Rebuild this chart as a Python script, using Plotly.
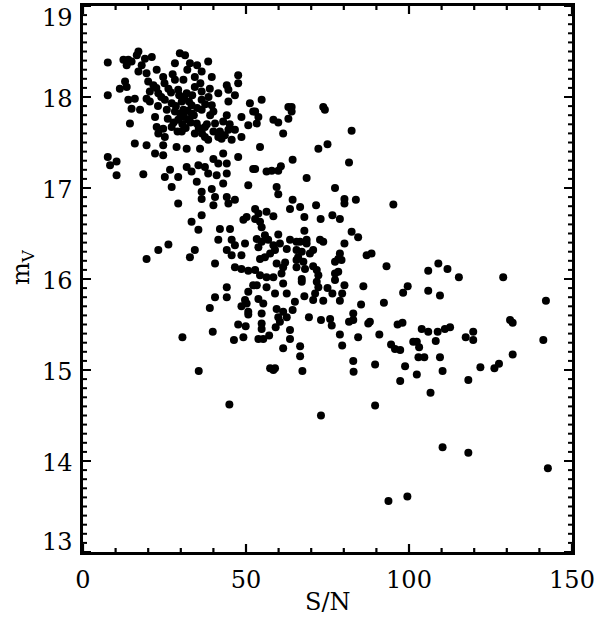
import plotly.graph_objects as go

# S/N and m_V values
sn = [
7.6,7.6,12.4,13.4,14.9,16.5,17.0,19.0,21.1,18.0,13.9,29.7,31.3,28.2,32.8,38.4,17.0,19.5,22.6,24.6,
28.2,30.8,34.3,36.4,39.5,47.6,47.6,12.9,11.3,13.4,20.0,21.6,20.5,23.1,26.2,29.2,31.8,34.3,36.4,38.9,
41.5,44.1,44.6,46.6,44.6,13.9,15.9,19.5,25.1,27.2,30.3,33.3,36.4,39.5,14.9,17.5,22.1,25.7,28.2,30.8,
33.3,36.4,40.0,44.1,48.6,51.2,50.7,52.2,14.4,22.6,24.6,27.2,29.2,32.3,34.9,37.4,40.5,43.0,44.6,46.6,
48.6,41.5,23.1,25.1,30.3,34.3,37.4,42.5,45.6,15.9,19.5,24.6,22.1,24.6,28.7,31.8,35.9,38.4,7.6,8.3,
10.3,10.3,18.5,25.1,26.7,29.2,31.8,33.3,35.4,37.4,40.0,41.5,44.1,43.0,47.6,27.2,34.9,36.4,38.4,41.0,
44.1,43.0,39.5,40.5,44.1,46.6,36.4,40.0,44.6,50.7,52.2,29.2,33.3,36.4,35.4,42.0,45.1,49.2,50.2,19.5,
23.1,26.2,34.3,32.8,40.5,41.5,44.1,45.6,46.6,45.6,48.6,49.7,46.6,48.6,50.7,
54.8,52.8,53.8,53.3,63.0,64.0,64.0,73.7,74.2,58.4,59.9,63.0,61.4,82.4,54.3,72.2,75.0,52.8,56.3,57.9,
59.9,60.7,64.3,81.6,68.6,59.4,59.9,77.3,64.3,80.2,80.2,83.7,95.2,63.5,66.6,71.5,52.8,53.8,52.8,54.3,
56.3,58.4,67.9,72.9,76.5,78.8,54.8,55.8,67.9,59.9,82.4,84.4,53.3,54.8,53.8,56.8,58.4,60.4,58.9,62.5,
63.5,65.5,66.6,68.6,68.6,72.7,73.7,80.2,65.5,67.1,66.0,69.6,70.6,54.3,55.8,57.4,65.5,67.6,65.5,68.1,
78.8,78.3,79.3,77.3,87.0,88.5,93.1,59.4,62.0,61.4,70.6,71.7,72.2,77.3,78.3,52.8,54.3,56.3,58.4,60.9,
67.1,
105.9,109.0,111.8,115.3,128.9,
44.1,40.5,44.1,38.9,50.7,52.2,49.7,50.2,48.6,50.7,50.7,47.6,49.9,39.8,30.5,46.3,49.2,35.5,44.9,
53.3,56.3,61.4,67.1,71.7,72.2,77.3,80.2,86.0,58.9,62.5,53.8,55.3,54.8,67.9,71.2,70.6,75.0,76.5,79.5,
73.7,78.8,65.0,64.3,59.4,61.4,59.9,62.5,60.4,85.3,92.3,99.6,98.2,69.3,73.0,75.8,76.3,81.6,82.9,82.9,
87.5,88.0,96.5,98.0,54.8,54.8,53.8,55.3,57.1,59.1,63.5,63.5,61.4,66.6,66.6,67.3,57.4,58.9,58.4,78.8,
79.5,84.4,90.9,82.9,83.0,89.6,94.5,95.7,97.3,101.3,98.8,97.3,89.6,73.0,93.7,99.5,
105.9,109.5,142.0,103.9,105.9,108.8,111.0,112.6,117.4,119.7,119.7,131.0,131.8,141.2,102.4,103.1,108.2,
102.9,104.7,109.5,131.8,102.4,110.3,121.9,126.2,127.6,118.2,106.6,110.3,118.2,142.6,
28.5,29.8,31.0,32.0,30.5,31.5,33.0,29.0,27.8,26.0,32.5,34.0,35.0,31.0,29.5,27.0,33.5,35.5,36.5,38.0,
39.0,37.5,38.5,40.0,42.0,43.5,45.0,24.0,22.5,25.0,27.5,32.0,35.0,36.0,23.0,20.5,
]

mv = [
18.38,18.02,18.41,18.35,18.39,18.46,18.50,18.42,18.44,18.35,18.41,18.48,18.46,18.37,18.37,18.39,18.28,18.26,18.30,18.22,
18.19,18.19,18.22,18.28,18.22,18.24,18.15,18.17,18.09,18.11,18.17,18.13,18.06,18.04,18.09,18.08,18.04,18.11,18.06,18.09,
18.04,18.13,18.08,18.02,17.95,17.97,17.98,17.98,17.97,17.93,17.95,17.91,17.97,17.91,17.87,17.86,17.78,17.86,17.84,17.86,
17.82,17.86,17.84,17.80,17.78,17.93,17.69,17.84,17.71,17.67,17.65,17.67,17.75,17.75,17.71,17.67,17.71,17.73,17.64,17.64,
17.56,17.56,17.60,17.56,17.62,17.60,17.56,17.54,17.53,17.49,17.47,17.47,17.38,17.36,17.45,17.43,17.43,17.53,17.34,17.25,
17.29,17.14,17.15,17.12,17.20,17.12,17.23,17.18,17.25,17.23,17.32,17.27,17.27,17.38,17.34,17.01,17.07,16.96,17.16,17.14,
17.16,17.05,16.99,16.90,16.90,16.87,16.88,16.81,16.83,17.03,17.21,16.83,16.63,16.70,16.54,16.55,16.55,16.65,16.68,16.22,
16.32,16.38,16.32,16.24,16.17,16.43,16.32,16.43,16.37,16.26,16.26,16.39,16.13,16.11,16.09,
17.97,17.84,17.78,17.71,17.89,17.89,17.84,17.89,17.86,17.75,17.72,17.76,17.60,17.63,17.45,17.43,17.48,17.21,17.18,17.19,
17.19,17.24,17.31,17.28,17.11,17.01,16.93,17.00,16.87,16.88,16.83,16.87,16.82,16.77,16.79,16.81,16.77,16.72,16.66,16.63,
16.74,16.69,16.68,16.66,16.70,16.66,16.57,16.48,16.53,16.49,16.52,16.46,16.44,16.41,16.35,16.43,16.37,16.39,16.32,16.33,
16.43,16.41,16.41,16.43,16.39,16.43,16.41,16.39,16.32,16.30,16.24,16.28,16.32,16.22,16.24,16.28,16.21,16.19,16.13,16.11,
16.28,16.22,16.21,16.19,16.26,16.28,16.14,16.17,16.18,16.13,16.14,16.10,16.04,16.06,16.08,16.10,16.04,16.02,16.02,16.06,
16.00,
16.09,16.17,16.11,16.02,16.02,
15.91,15.80,15.80,15.68,15.86,15.93,15.77,15.73,15.70,15.64,15.61,15.50,15.48,15.42,15.36,15.33,15.36,14.99,14.62,
15.93,15.91,15.95,15.97,15.97,15.91,15.99,15.93,15.92,15.84,15.84,15.78,15.73,15.62,15.81,15.84,15.77,15.90,15.84,15.84,
15.76,15.76,15.75,15.66,15.67,15.64,15.58,15.58,15.53,15.72,15.74,15.92,15.85,15.58,15.55,15.56,15.49,15.53,15.62,15.55,
15.51,15.53,15.50,15.52,15.51,15.45,15.34,15.34,15.38,15.47,15.44,15.34,15.24,15.26,15.15,14.99,15.02,15.02,15.00,15.39,
15.27,15.36,15.39,15.10,14.98,15.06,15.28,15.23,15.22,15.31,15.04,14.88,14.61,14.50,13.56,13.61,
15.87,15.82,15.76,15.45,15.42,15.42,15.45,15.47,15.36,15.42,15.33,15.55,15.52,15.33,15.31,15.25,15.32,
15.14,15.14,15.14,15.17,14.95,14.99,15.03,15.02,15.07,14.89,14.75,14.15,14.09,13.92,
17.90,17.82,17.78,17.85,17.70,17.66,17.72,17.62,17.72,17.76,17.95,17.80,17.88,18.00,18.02,18.05,18.02,17.66,17.60,17.70,
17.80,17.92,18.00,17.62,17.62,17.58,17.70,18.00,18.10,18.15,18.25,18.30,18.35,18.15,17.90,17.95,
]

x_ticks = [0, 50, 100, 150]
y_ticks = [13, 14, 15, 16, 17, 18, 19]
x_minor_step = 10
y_minor_step = 0.1
x_title = "S/N"
y_title = "m<sub>V</sub>"

FONT = "DejaVu Serif"
TXT = dict(family=FONT, size=24, color="black")

W, H = 600, 623
M = dict(l=83, r=28, t=6, b=71)
PLOT_W = W - M["l"] - M["r"]
PLOT_H = H - M["t"] - M["b"]
MAJOR_LEN, MINOR_LEN = 8, 4
TICK_W = 2.2  # pixels

fig = go.Figure()
fig.add_trace(go.Scatter(
    x=sn, y=mv, mode="markers",
    marker=dict(color="black", size=8, line=dict(width=0)),
    cliponaxis=False, hoverinfo="skip",
))

fig.update_xaxes(
    range=[x_ticks[0], x_ticks[-1]], tickmode="array", tickvals=x_ticks,
    ticktext=[str(v) for v in x_ticks],
    showgrid=False, zeroline=False, showline=True, linecolor="black", linewidth=2.5,
    mirror=True, ticks="inside", ticklen=MAJOR_LEN, tickwidth=2, tickcolor="black",
    tickfont=TXT, automargin=False, ticklabeloverflow="allow", ticklabelstandoff=4,
)
fig.update_yaxes(
    range=[y_ticks[0], y_ticks[-1]], tickmode="array", tickvals=y_ticks, showticklabels=False,
    showgrid=False, zeroline=False, showline=True, linecolor="black", linewidth=2.5,
    mirror=True, ticks="inside", ticklen=MAJOR_LEN, tickwidth=2, tickcolor="black",
    automargin=False,
)

# tick marks on all four sides (major + minor), placed through the axis scales
shapes = []
half_w = TICK_W / 2 * (x_ticks[-1] - x_ticks[0]) / PLOT_W  # half tick width in S/N units
n_x = int(round((x_ticks[-1] - x_ticks[0]) / x_minor_step))
for i in range(n_x + 1):
    v = x_ticks[0] + i * x_minor_step
    f = (MAJOR_LEN if v in x_ticks else MINOR_LEN) / PLOT_H
    for y0, y1 in ((0, f), (1 - f, 1)):
        shapes.append(dict(type="rect", xref="x", yref="paper",
                           x0=v - half_w, x1=v + half_w, y0=y0, y1=y1,
                           fillcolor="black", line=dict(width=0), layer="above"))
y_tick_line = dict(color="black", width=2)
n_y = int(round((y_ticks[-1] - y_ticks[0]) / y_minor_step))
for i in range(n_y + 1):
    v = round(y_ticks[0] + i * y_minor_step, 3)
    f = (MAJOR_LEN if i % 10 == 0 else MINOR_LEN) / PLOT_W
    shapes.append(dict(type="line", yref="y", xref="paper", y0=v, y1=v, x0=0, x1=f,
                       line=y_tick_line, layer="above"))
    shapes.append(dict(type="line", yref="y", xref="paper", y0=v, y1=v, x0=1, x1=1 - f,
                       line=y_tick_line, layer="above"))

# y tick labels (end labels kept inside the frame, as in the reference)
annotations = []
for v in y_ticks:
    if v == y_ticks[-1]:
        anchor, shift = "top", 4
    elif v == y_ticks[0]:
        anchor, shift = "bottom", -6
    else:
        anchor, shift = "middle", -2
    annotations.append(dict(
        x=0, xref="paper", y=v, yref="y", text=str(v), showarrow=False,
        xanchor="right", yanchor=anchor, xshift=-8, yshift=shift, font=TXT,
    ))
annotations.append(dict(
    x=0.5, xref="paper", y=0, yref="paper", text=x_title, showarrow=False,
    xanchor="center", yanchor="middle", yshift=-50, font=TXT,
))
annotations.append(dict(
    x=0, xref="paper", y=0.5, yref="paper", text=y_title, showarrow=False,
    xanchor="center", yanchor="middle", xshift=-61, yshift=12, textangle=-90, font=TXT,
))

fig.update_layout(
    width=W, height=H,
    margin=M,
    paper_bgcolor="white", plot_bgcolor="white",
    showlegend=False,
    annotations=annotations,
    shapes=shapes,
)

fig.write_html("out.html", config={"displayModeBar": False},
               post_script="document.body.style.margin='0';")
